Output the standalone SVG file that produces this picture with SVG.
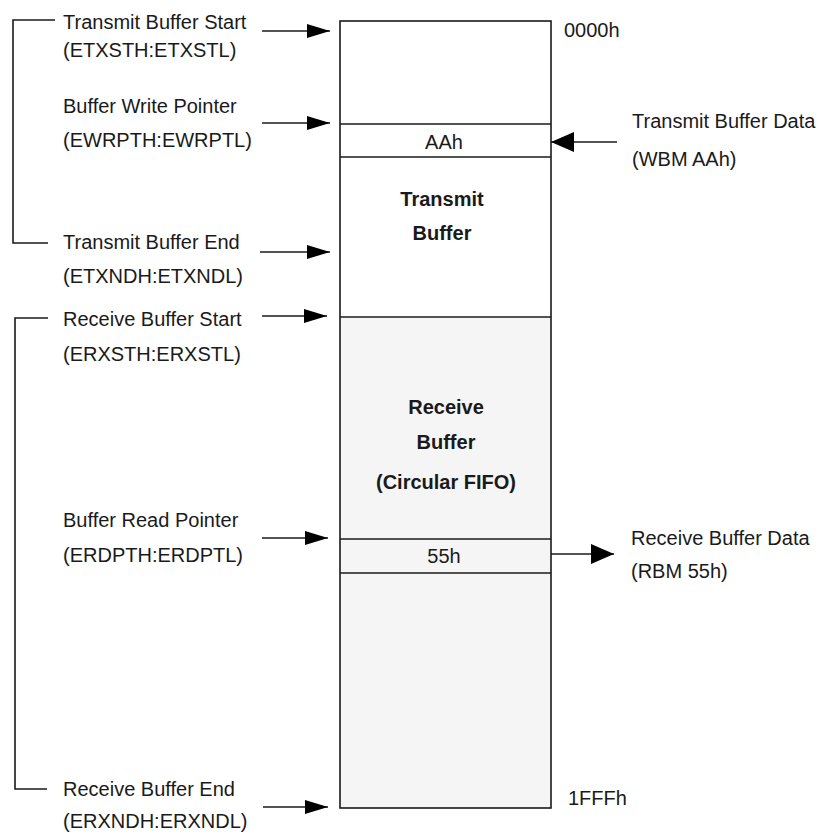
<svg xmlns="http://www.w3.org/2000/svg" width="826" height="834" viewBox="0 0 826 834">
<defs>
<style>
text{font-family:"Liberation Sans",Arial,sans-serif;font-size:20px;fill:#1a1a1a}
.b{font-weight:bold;text-anchor:middle}
.m{text-anchor:middle}
.ln{stroke:#1a1a1a;stroke-width:1.6;fill:none}
</style>
<marker id="ah" markerWidth="23" markerHeight="14" refX="23" refY="7" orient="auto" markerUnits="userSpaceOnUse">
<path d="M0,0 L23,7 L0,14 Z" fill="#000"/>
</marker>
<marker id="ahb" markerWidth="23" markerHeight="20" refX="23" refY="10" orient="auto" markerUnits="userSpaceOnUse">
<path d="M0,0 L23,10 L0,20 Z" fill="#000"/>
</marker>
</defs>
<rect width="826" height="834" fill="#fff"/>
<g id="memory">
<rect x="340" y="317" width="211" height="491" fill="#f5f5f5"/>
<rect x="340" y="21" width="211" height="787" class="ln"/>
<line x1="340" y1="124" x2="551" y2="124" class="ln"/>
<line x1="340" y1="157" x2="551" y2="157" class="ln"/>
<line x1="340" y1="317" x2="551" y2="317" class="ln"/>
<line x1="340" y1="539" x2="551" y2="539" class="ln"/>
<line x1="340" y1="573" x2="551" y2="573" class="ln"/>
<text x="444" y="149" class="m">AAh</text>
<text x="442" y="206" class="b">Transmit</text>
<text x="442" y="240" class="b">Buffer</text>
<text x="446" y="414" class="b">Receive</text>
<text x="446" y="449" class="b">Buffer</text>
<text x="446" y="489" class="b">(Circular FIFO)</text>
<text x="444" y="563" class="m">55h</text>
<text x="564" y="37">0000h</text>
<text x="568" y="805">1FFFh</text>
</g>
<g id="brackets">
<polyline points="55,20 13,20 13,243 48,243" class="ln"/>
<polyline points="48,318 15,318 15,789 47,789" class="ln"/>
</g>
<g id="labels">
<text x="63" y="29">Transmit Buffer Start</text>
<text x="63" y="57">(ETXSTH:ETXSTL)</text>
<text x="63" y="113">Buffer Write Pointer</text>
<text x="63" y="147">(EWRPTH:EWRPTL)</text>
<text x="63" y="249">Transmit Buffer End</text>
<text x="63" y="283">(ETXNDH:ETXNDL)</text>
<text x="63" y="326">Receive Buffer Start</text>
<text x="63" y="361">(ERXSTH:ERXSTL)</text>
<text x="63" y="527">Buffer Read Pointer</text>
<text x="63" y="562">(ERDPTH:ERDPTL)</text>
<text x="63" y="796">Receive Buffer End</text>
<text x="63" y="828">(ERXNDH:ERXNDL)</text>
<text x="632" y="128">Transmit Buffer Data</text>
<text x="632" y="166">(WBM AAh)</text>
<text x="631" y="545">Receive Buffer Data</text>
<text x="631" y="578">(RBM 55h)</text>
</g>
<g id="connectors">
<line x1="262" y1="31" x2="330" y2="31" class="ln" marker-end="url(#ah)"/>
<line x1="262" y1="123" x2="330" y2="123" class="ln" marker-end="url(#ah)"/>
<line x1="260" y1="252" x2="330" y2="252" class="ln" marker-end="url(#ah)"/>
<line x1="262" y1="316" x2="327" y2="316" class="ln" marker-end="url(#ah)"/>
<line x1="262" y1="538" x2="328" y2="538" class="ln" marker-end="url(#ah)"/>
<line x1="263" y1="807" x2="328" y2="807" class="ln" marker-end="url(#ah)"/>
<line x1="617" y1="142" x2="551" y2="142" class="ln" marker-end="url(#ahb)"/>
<line x1="551" y1="554" x2="614" y2="554" class="ln" marker-end="url(#ahb)"/>
</g>
</svg>
